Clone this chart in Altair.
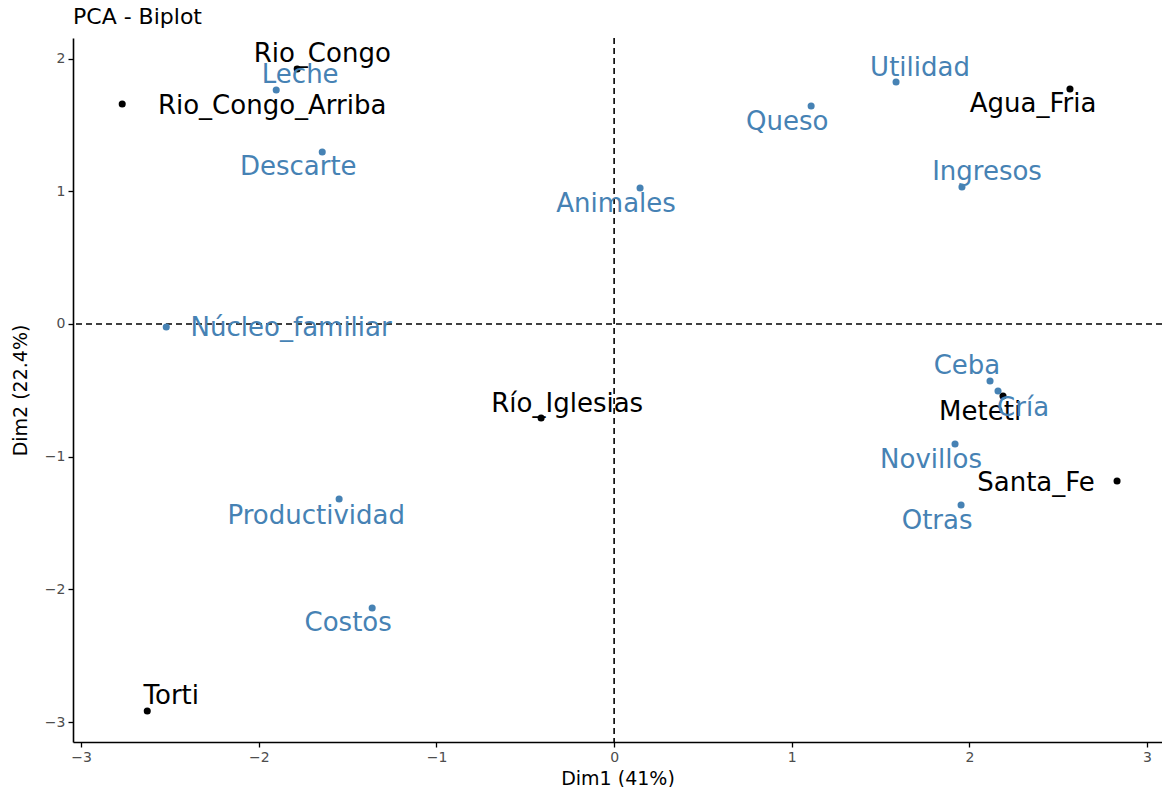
import altair as alt
import pandas as pd

# Individuals (black)
ind_names = ["Rio_Congo", "Rio_Congo_Arriba", "Agua_Fria", "Río_Iglesias", "Meteti", "Santa_Fe", "Torti"]
ind_x = [-1.784, -2.769, 2.566, -0.411, 2.189, 2.831, -2.628]
ind_y = [1.922, 1.658, 1.771, -0.708, -0.543, -1.183, -2.916]
ind_lx = [-1.643, -1.925, 2.358, -0.264, 2.060, 2.375, -2.493]
ind_ly = [2.035, 1.643, 1.658, -0.603, -0.663, -1.198, -2.803]

# Variables (steelblue)
var_names = ["Leche", "Descarte", "Utilidad", "Queso", "Animales", "Ingresos", "Núcleo_familiar",
             "Ceba", "Cría", "Novillos", "Otras", "Productividad", "Costos"]
var_x = [-1.902, -1.643, 1.587, 1.109, 0.146, 1.958, -2.521, 2.116, 2.161, 1.919, 1.953, -1.548, -1.362]
var_y = [1.763, 1.296, 1.824, 1.643, 1.025, 1.032, -0.023, -0.430, -0.505, -0.904, -1.364, -1.319, -2.140]
var_lx = [-1.767, -1.778, 1.722, 0.974, 0.011, 2.099, -1.818, 1.986, 2.302, 1.784, 1.818, -1.677, -1.497]
var_ly = [1.876, 1.183, 1.929, 1.522, 0.904, 1.145, -0.030, -0.317, -0.633, -1.025, -1.485, -1.447, -2.253]

x_ticks = [-3, -2, -1, 0, 1, 2, 3]
y_ticks = [-3, -2, -1, 0, 1, 2]

ind = pd.DataFrame({"name": ind_names, "x": ind_x, "y": ind_y, "lx": ind_lx, "ly": ind_ly})
var = pd.DataFrame({"name": var_names, "x": var_x, "y": var_y, "lx": var_lx, "ly": var_ly})
zero = pd.DataFrame({"v": [0]})

xs = alt.Scale(domain=[-3.046, 3.084], nice=False, zero=False)
ys = alt.Scale(domain=[-3.15, 2.155], nice=False, zero=False)

xax = alt.Axis(values=x_ticks, title="Dim1 (41%)", grid=False, format="d")
yax = alt.Axis(values=y_ticks, title="Dim2 (22.4%)", grid=False, format="d")

vline = alt.Chart(zero).mark_rule(color="black", strokeDash=[6, 4], strokeWidth=1.6).encode(
    x=alt.X("v:Q", scale=xs, axis=xax))
hline = alt.Chart(zero).mark_rule(color="black", strokeDash=[6, 4], strokeWidth=1.6).encode(
    y=alt.Y("v:Q", scale=ys, axis=yax))

ind_pts = alt.Chart(ind).mark_circle(color="black", size=50, opacity=1).encode(
    x=alt.X("x:Q", scale=xs), y=alt.Y("y:Q", scale=ys))
ind_txt = alt.Chart(ind).mark_text(color="black", font="DejaVu Sans", fontSize=26,
                                   align="center", baseline="middle").encode(
    x=alt.X("lx:Q", scale=xs), y=alt.Y("ly:Q", scale=ys), text="name:N")

var_pts = alt.Chart(var).mark_circle(color="#4682B4", size=50, opacity=1).encode(
    x=alt.X("x:Q", scale=xs), y=alt.Y("y:Q", scale=ys))
var_txt = alt.Chart(var).mark_text(color="#4682B4", font="DejaVu Sans", fontSize=26,
                                   align="center", baseline="middle").encode(
    x=alt.X("lx:Q", scale=xs), y=alt.Y("ly:Q", scale=ys), text="name:N")

chart = alt.layer(vline, hline, ind_pts, ind_txt, var_pts, var_txt).properties(
    width=1089, height=704,
    title=alt.TitleParams("PCA - Biplot", anchor="start", frame="group", fontSize=22,
                          font="DejaVu Sans", fontWeight="normal", color="black", offset=8),
    autosize=alt.AutoSizeParams(type="none"),
    padding={"left": 73, "top": 38, "right": 0, "bottom": 45},
).configure_view(stroke=None).configure_axis(
    domainColor="black", domainWidth=1.6, tickColor="black", tickWidth=1.3, tickSize=5,
    labelFont="DejaVu Sans", labelFontSize=14, labelColor="#4d4d4d",
    titleFont="DejaVu Sans", titleFontSize=19, titleFontWeight="normal", titleColor="black",
    labelPadding=3,
).configure_axisX(titlePadding=5).configure_axisY(titlePadding=14)

chart.save("out.html", embed_options={"renderer": "svg", "actions": False})
